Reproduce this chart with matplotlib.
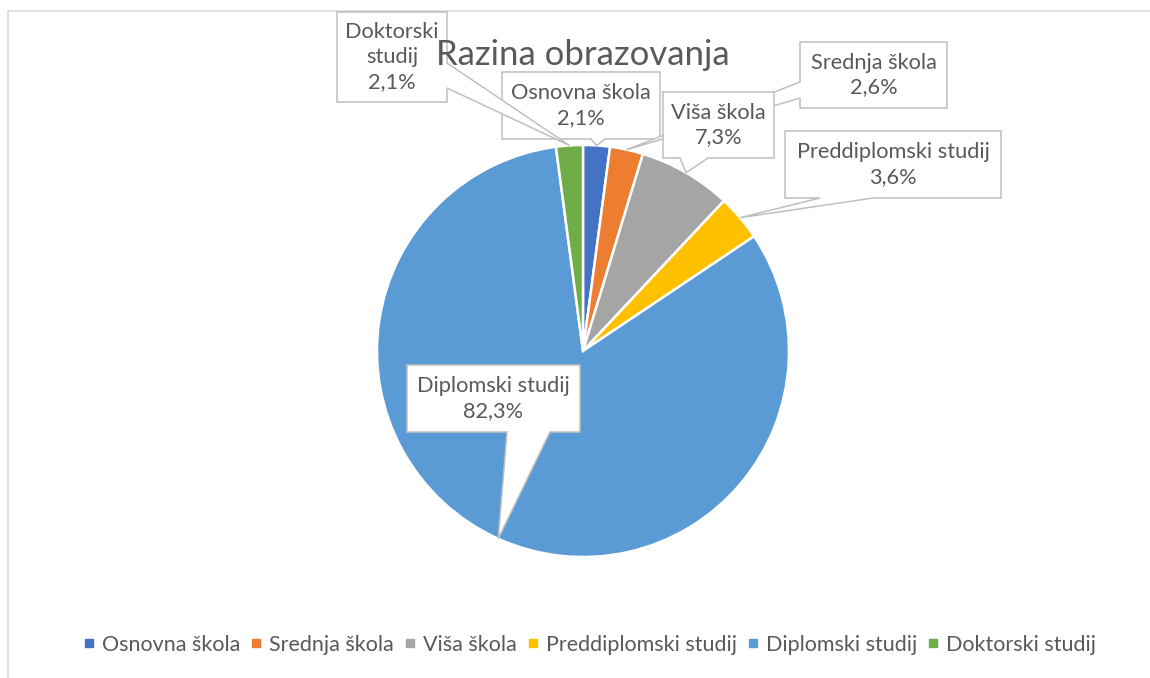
import numpy as np
import matplotlib
matplotlib.use('Agg')
import matplotlib.pyplot as plt
from matplotlib.patches import Polygon
from matplotlib.lines import Line2D

# data
categories = ['Osnovna škola', 'Srednja škola', 'Viša škola',
              'Preddiplomski studij', 'Diplomski studij', 'Doktorski studij']
values = [2.1, 2.6, 7.3, 3.6, 82.3, 2.1]
label_names = ['Osnovna škola', 'Srednja škola', 'Viša škola',
               'Preddiplomski studij', 'Diplomski studij', 'Doktorski\nstudij']
colors = ['#4472C4', '#ED7D31', '#A5A5A5', '#FFC000', '#5B9BD5', '#70AD47']
title = 'Razina obrazovanja'

W, H = 1150, 678
TXT = '#595959'
plt.rcParams['font.family'] = ['Lato', 'DejaVu Sans']

# callout layout in pixel coords (x0, y0, x1, y1), side of pointer, base span
callouts = [
    ((502, 72, 660, 139), 'bottom', (591, 605)),
    ((800, 42, 947, 108), 'left', (82, 98)),
    ((663, 92, 774, 158), 'bottom', (680, 708)),
    ((785, 131, 1001, 198), 'bottom', (820, 873)),
    ((407, 365, 580, 432), 'bottom', (507, 550)),
    ((337, 12, 447, 102), 'right', (63, 88)),
]


def py(y):
    return H - y


def callout_poly(box, side, base, tip):
    x0, y0, x1, y1 = box
    a, b = base
    pts = [(x0, y0), (x1, y0)]
    if side == 'right':
        pts += [(x1, a), tip, (x1, b)]
    pts.append((x1, y1))
    if side == 'bottom':
        pts += [(b, y1), tip, (a, y1)]
    pts.append((x0, y1))
    if side == 'left':
        pts += [(x0, b), tip, (x0, a)]
    return [(x, py(y)) for x, y in pts]


fig = plt.figure(figsize=(W / 100, H / 100), dpi=100)
ax = fig.add_axes([0, 0, 1, 1])

cx, cy, r = 583, py(351), 206
wedges, _ = ax.pie(values, colors=colors, startangle=90, counterclock=False,
                   center=(cx, cy), radius=r, frame=True,
                   wedgeprops=dict(edgecolor='white', linewidth=1.8))
ax.set_xlim(0, W)
ax.set_ylim(0, H)
ax.set_aspect('equal')
ax.axis('off')

# chart frame
ax.plot([8, W], [py(11), py(11)], color='#D9D9D9', lw=1.2, clip_on=False)
ax.plot([8, 8], [py(11), 0], color='#D9D9D9', lw=1.2, clip_on=False)

ax.text(583, py(55), title, ha='center', va='center', fontsize=25, color=TXT,
        zorder=20)

for i, (w, (box, side, base)) in enumerate(zip(wedges, callouts)):
    mid = np.deg2rad((w.theta1 + w.theta2) / 2)
    tip = (cx + r * np.cos(mid), H - (cy + r * np.sin(mid)))
    poly = Polygon(callout_poly(box, side, base, tip), closed=True,
                   facecolor='white', edgecolor='#BFBFBF', lw=1.1, zorder=3 + i)
    ax.add_patch(poly)
    x0, y0, x1, y1 = box
    pct = f'{values[i]:.1f}%'.replace('.', ',')
    ax.text((x0 + x1) / 2, py((y0 + y1) / 2), f'{label_names[i]}\n{pct}',
            ha='center', va='center', fontsize=15.7, color=TXT,
            linespacing=1.3, zorder=3 + i)

handles = [Line2D([], [], marker='s', color=c, linestyle='none', markersize=6)
           for c in colors]
ax.legend(handles, categories, loc='center', bbox_to_anchor=(590 / W, 1 - 645 / H),
          ncol=6, frameon=False, fontsize=15.5, handlelength=0.5, handletextpad=0.35,
          columnspacing=0.5, labelcolor=TXT)

fig.savefig('out.png', dpi=100)
